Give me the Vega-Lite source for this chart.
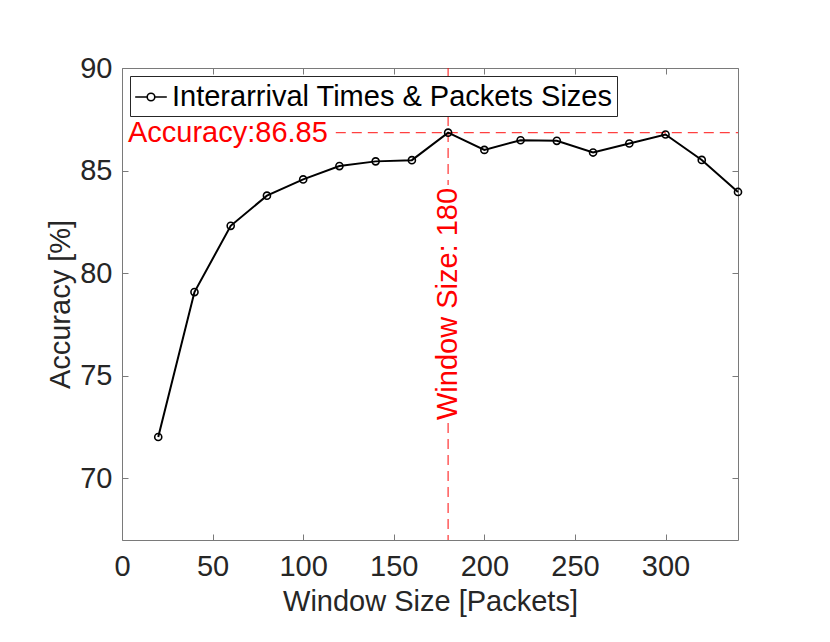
{
  "$schema": "https://vega.github.io/schema/vega-lite/v6.json",
  "width": 616,
  "height": 472,
  "autosize": "none",
  "padding": {"left": 122, "top": 68, "right": 92, "bottom": 102},
  "background": "white",
  "config": {
    "font": "Liberation Sans",
    "view": {"stroke": null},
    "axis": {
      "grid": false,
      "labelFont": "Liberation Sans",
      "titleFont": "Liberation Sans",
      "labelFontSize": 29,
      "titleFontSize": 29,
      "labelColor": "#262626",
      "titleColor": "#262626",
      "titleFontWeight": "normal",
      "domainColor": "#7a7a7a",
      "tickColor": "#7a7a7a",
      "domainWidth": 1,
      "tickWidth": 1,
      "tickSize": -6,
      "labelFlush": false,
      "labelOverlap": false
    }
  },
  "datasets": {
    "acc": [
      {"w": 20, "a": 72.02, "series": "Interarrival Times & Packets Sizes"},
      {"w": 40, "a": 79.08, "series": "Interarrival Times & Packets Sizes"},
      {"w": 60, "a": 82.31, "series": "Interarrival Times & Packets Sizes"},
      {"w": 80, "a": 83.78, "series": "Interarrival Times & Packets Sizes"},
      {"w": 100, "a": 84.57, "series": "Interarrival Times & Packets Sizes"},
      {"w": 120, "a": 85.22, "series": "Interarrival Times & Packets Sizes"},
      {"w": 140, "a": 85.45, "series": "Interarrival Times & Packets Sizes"},
      {"w": 160, "a": 85.51, "series": "Interarrival Times & Packets Sizes"},
      {"w": 180, "a": 86.85, "series": "Interarrival Times & Packets Sizes"},
      {"w": 200, "a": 86.01, "series": "Interarrival Times & Packets Sizes"},
      {"w": 220, "a": 86.48, "series": "Interarrival Times & Packets Sizes"},
      {"w": 240, "a": 86.45, "series": "Interarrival Times & Packets Sizes"},
      {"w": 260, "a": 85.88, "series": "Interarrival Times & Packets Sizes"},
      {"w": 280, "a": 86.32, "series": "Interarrival Times & Packets Sizes"},
      {"w": 300, "a": 86.76, "series": "Interarrival Times & Packets Sizes"},
      {"w": 320, "a": 85.52, "series": "Interarrival Times & Packets Sizes"},
      {"w": 340, "a": 83.96, "series": "Interarrival Times & Packets Sizes"}
    ],
    "hline": [{"x1": 118, "x2": 340, "y": 86.85}],
    "vline": [{"x": 180, "y1": 90, "y2": 84.3}, {"x": 180, "y1": 72.7, "y2": 67}],
    "labels": [
      {"x": 3.3, "y": 86.85, "text": "Accuracy:86.85", "kind": "h"},
      {"x": 180, "y": 78.5, "text": "Window Size: 180", "kind": "v"}
    ]
  },
  "resolve": {"axis": {"x": "independent", "y": "independent"}},
  "layer": [
    {
      "data": {"name": "hline"},
      "mark": {"type": "rule", "color": "#ff0000", "strokeOpacity": 0.75, "strokeWidth": 1.3, "strokeDash": [10, 6]},
      "encoding": {
        "x": {"field": "x1", "type": "quantitative", "scale": {"domain": [0, 340], "nice": false}, "axis": {"orient": "top", "labels": false, "title": null, "values": [0, 50, 100, 150, 200, 250, 300]}},
        "x2": {"field": "x2"},
        "y": {"field": "y", "type": "quantitative", "scale": {"domain": [67, 90], "nice": false, "zero": false}, "axis": {"orient": "right", "labels": false, "title": null, "values": [70, 75, 80, 85, 90]}}
      }
    },
    {
      "data": {"name": "vline"},
      "mark": {"type": "rule", "color": "#ff0000", "strokeOpacity": 0.75, "strokeWidth": 1.3, "strokeDash": [10, 6]},
      "encoding": {
        "x": {"field": "x", "type": "quantitative", "axis": null},
        "y": {"field": "y1", "type": "quantitative", "axis": null},
        "y2": {"field": "y2"}
      }
    },
    {
      "data": {"name": "acc"},
      "mark": {"type": "line", "strokeWidth": 2, "clip": false},
      "encoding": {
        "x": {"field": "w", "type": "quantitative", "title": "Window Size [Packets]", "axis": {"orient": "bottom", "values": [0, 50, 100, 150, 200, 250, 300], "labelPadding": 18, "titlePadding": 6}},
        "y": {"field": "a", "type": "quantitative", "title": "Accuracy [%]", "axis": {"orient": "left", "values": [70, 75, 80, 85, 90], "labelPadding": 16, "titlePadding": 4}},
        "color": {
          "field": "series", "type": "nominal", "title": null,
          "scale": {"range": ["#000000"]},
          "legend": {
            "orient": "top-left",
            "offset": 8,
            "padding": 4,
            "fillColor": "white",
            "strokeColor": "#262626",
            "labelFont": "Liberation Sans",
            "labelFontSize": 29,
            "labelColor": "#000000",
            "labelLimit": 800,
            "symbolType": "M-1,0H-0.24M0.24,0H1M0.24,0A0.24,0.24 0 1 1 -0.24,0A0.24,0.24 0 1 1 0.24,0Z",
            "symbolSize": 1000,
            "symbolStrokeWidth": 1.6,
            "symbolStrokeColor": "#000000",
            "symbolFillColor": "white",
            "labelOffset": 4
          }
        }
      }
    },
    {
      "data": {"name": "acc"},
      "mark": {"type": "point", "shape": "circle", "filled": false, "size": 50, "strokeWidth": 1.6, "color": "#000000", "fill": "white", "fillOpacity": 0, "opacity": 1, "clip": false},
      "encoding": {
        "x": {"field": "w", "type": "quantitative", "axis": null},
        "y": {"field": "a", "type": "quantitative", "axis": null}
      }
    },
    {
      "data": {"name": "labels"},
      "transform": [{"filter": "datum.kind === 'h'"}],
      "mark": {"type": "text", "color": "#ff0000", "fontSize": 29, "font": "Liberation Sans", "align": "left", "baseline": "middle"},
      "encoding": {
        "x": {"field": "x", "type": "quantitative", "axis": null},
        "y": {"field": "y", "type": "quantitative", "axis": null},
        "text": {"field": "text"}
      }
    },
    {
      "data": {"name": "labels"},
      "transform": [{"filter": "datum.kind === 'v'"}],
      "mark": {"type": "text", "color": "#ff0000", "fontSize": 29, "font": "Liberation Sans", "align": "center", "baseline": "middle", "angle": 270},
      "encoding": {
        "x": {"field": "x", "type": "quantitative", "axis": null},
        "y": {"field": "y", "type": "quantitative", "axis": null},
        "text": {"field": "text"}
      }
    }
  ]
}
